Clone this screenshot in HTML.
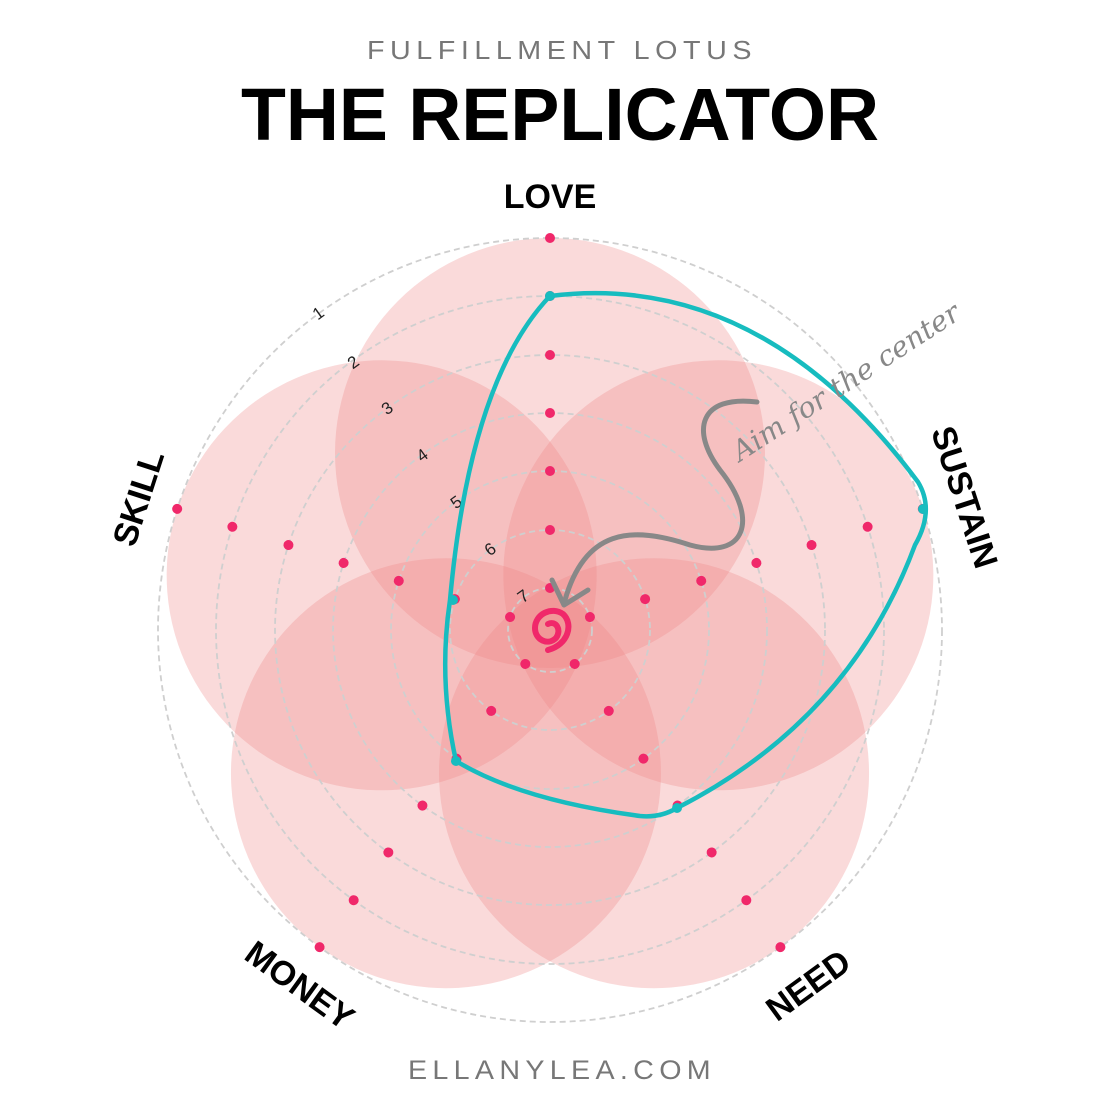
<!DOCTYPE html>
<html><head><meta charset="utf-8"><style>
html,body{margin:0;padding:0;background:#fff}
svg{display:block}
</style></head><body>
<svg width="1120" height="1120" viewBox="0 0 1120 1120" xmlns="http://www.w3.org/2000/svg">
<rect width="1120" height="1120" fill="#fff"/>
<text x="562" y="59" text-anchor="middle" font-family="Liberation Sans, sans-serif" font-size="26" letter-spacing="5" fill="#777" textLength="390" lengthAdjust="spacingAndGlyphs">FULFILLMENT LOTUS</text>
<text x="560" y="140" text-anchor="middle" font-family="Liberation Sans, sans-serif" font-weight="bold" font-size="74" fill="#000" textLength="638" lengthAdjust="spacingAndGlyphs">THE REPLICATOR</text>
<text x="562" y="1079" text-anchor="middle" font-family="Liberation Sans, sans-serif" font-size="27" letter-spacing="5" fill="#777" textLength="308" lengthAdjust="spacingAndGlyphs">ELLANYLEA.COM</text>
<g fill="#f08585" fill-opacity="0.3">
<circle cx="550" cy="453" r="215"/>
<circle cx="550" cy="453" r="215" transform="rotate(72 550 630)"/>
<circle cx="550" cy="453" r="215" transform="rotate(144 550 630)"/>
<circle cx="550" cy="453" r="215" transform="rotate(216 550 630)"/>
<circle cx="550" cy="453" r="215" transform="rotate(288 550 630)"/>
</g>
<g fill="none" stroke="#cfcfcf" stroke-width="1.8" stroke-dasharray="6 4">
<circle cx="550" cy="630" r="392"/><circle cx="550" cy="630" r="334"/><circle cx="550" cy="630" r="275"/>
<circle cx="550" cy="630" r="217"/><circle cx="550" cy="630" r="159"/><circle cx="550" cy="630" r="100"/><circle cx="550" cy="630" r="42"/>
</g>
<defs><g id="ax" fill="#f0286a">
<circle cx="550" cy="238" r="5"/><circle cx="550" cy="296" r="5"/><circle cx="550" cy="355" r="5"/><circle cx="550" cy="413" r="5"/><circle cx="550" cy="471" r="5"/><circle cx="550" cy="530" r="5"/><circle cx="550" cy="588" r="5"/>
</g></defs>
<use href="#ax"/>
<use href="#ax" transform="rotate(72 550 630)"/>
<use href="#ax" transform="rotate(144 550 630)"/>
<use href="#ax" transform="rotate(216 550 630)"/>
<use href="#ax" transform="rotate(288 550 630)"/>
<g font-family="Liberation Sans, sans-serif" font-size="17" fill="#222">
<text x="318" y="319" transform="rotate(-36 318 313)" text-anchor="middle">1</text>
<text x="353" y="368" transform="rotate(-36 353 362)" text-anchor="middle">2</text>
<text x="387" y="414" transform="rotate(-36 387 408)" text-anchor="middle">3</text>
<text x="422" y="461" transform="rotate(-36 422 455)" text-anchor="middle">4</text>
<text x="456" y="508" transform="rotate(-36 456 502)" text-anchor="middle">5</text>
<text x="490" y="555" transform="rotate(-36 490 549)" text-anchor="middle">6</text>
<text x="523" y="602" transform="rotate(-36 523 596)" text-anchor="middle">7</text>
</g>
<path d="M550 296 Q 760 270 918 482 Q 935 510 915 545 Q 850 720 677 808 Q 660 818 640 816 Q 520 800 456 761 Q 438 680 450 600 Q 470 380 550 296 Z" fill="none" stroke="#17bcbf" stroke-width="4.5" stroke-linejoin="round"/>
<g fill="#17bcbf"><circle cx="550" cy="296" r="5"/><circle cx="923" cy="509" r="5"/><circle cx="677" cy="808" r="5"/><circle cx="456" cy="761" r="5"/><circle cx="453" cy="600" r="5"/></g>
<path d="M757 402 C 700 395 690 430 720 470 C 760 520 745 560 690 545 C 630 525 585 530 565 600" fill="none" stroke="#888" stroke-width="5" stroke-linecap="round"/>
<path d="M552 580 L 564 605 L 588 590" fill="none" stroke="#888" stroke-width="5" stroke-linecap="round" stroke-linejoin="round"/>
<text x="740" y="462" transform="rotate(-33 740 462)" font-family="DejaVu Serif, serif" font-style="italic" font-size="28" fill="#888" textLength="265" lengthAdjust="spacingAndGlyphs">Aim for the center</text>
<path d="M548 624 C 556 620 562 630 556 638 C 548 646 535 640 535 628 C 535 614 552 606 563 614 C 574 624 568 645 548 650" fill="none" stroke="#f0286a" stroke-width="6" stroke-linecap="round"/>
<g font-family="Liberation Sans, sans-serif" font-weight="bold" font-size="34" fill="#000" text-anchor="middle">
<text x="550" y="208">LOVE</text>
<text x="965" y="509" transform="rotate(72 965 497)">SUSTAIN</text>
<text x="808" y="997" transform="rotate(-36 808 985)">NEED</text>
<text x="300" y="997" transform="rotate(36 300 985)">MONEY</text>
<text x="138" y="510" transform="rotate(-72 138 498)">SKILL</text>
</g>
</svg>
</body></html>
